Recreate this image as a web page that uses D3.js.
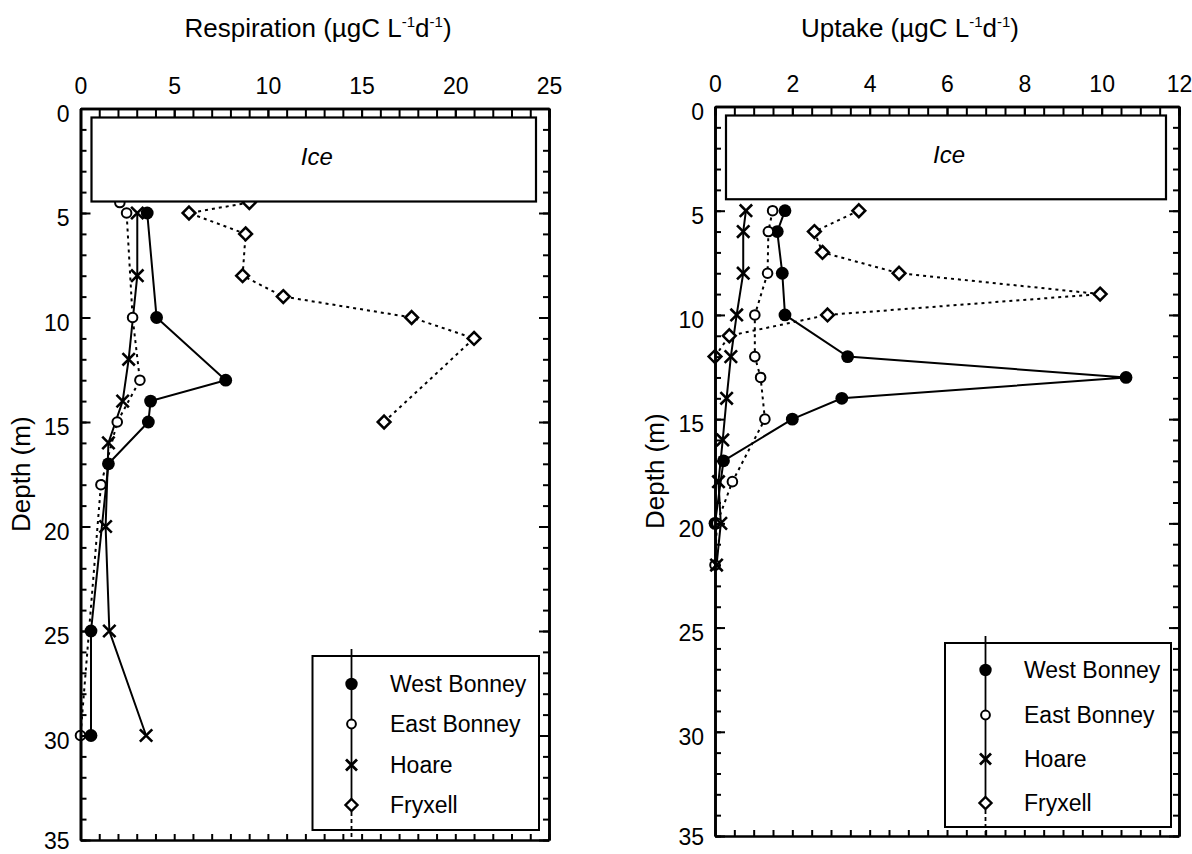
<!DOCTYPE html>
<html>
<head>
<meta charset="utf-8">
<script src="https://cdn.jsdelivr.net/npm/d3@7"></script>
<style>
  body { margin: 0; background: #fff; }
  svg { font-family: "Liberation Sans", Arial, Helvetica, sans-serif; }
</style>
</head>
<body>
<div id="chart"></div>
<script>
// ---- data (depth in m, values in ugC L-1 d-1) ----
const seriesNames = ['West Bonney', 'East Bonney', 'Hoare', 'Fryxell'];
const depthTicks = [0, 5, 10, 15, 20, 25, 30, 35];
const respTicks = [0, 5, 10, 15, 20, 25];
const uptakeTicks = [0, 2, 4, 6, 8, 10, 12];

// Respiration
const respWestBonneyDepth = [5, 10, 13, 14, 15, 17, 25, 30];
const respWestBonneyValue = [3.56, 4.06, 7.75, 3.74, 3.62, 1.49, 0.56, 0.56];
const respEastBonneyDepth = [4.5, 5, 10, 13, 15, 18, 30];
const respEastBonneyValue = [2.1, 2.46, 2.78, 3.17, 1.96, 1.09, 0.0];
const respHoareDepth = [5, 8, 12, 14, 16, 20, 25, 30];
const respHoareValue = [3.03, 3.03, 2.57, 2.25, 1.49, 1.34, 1.54, 3.5];
const respFryxellDepth = [4.5, 5, 6, 8, 9, 10, 11, 15];
const respFryxellValue = [9.01, 5.79, 8.81, 8.65, 10.82, 17.67, 21.0, 16.2];

// Uptake
const upWestBonneyDepth = [5, 6, 8, 10, 12, 13, 14, 15, 17, 20];
const upWestBonneyValue = [1.81, 1.61, 1.74, 1.81, 3.43, 10.63, 3.28, 2.0, 0.22, 0.0];
const upEastBonneyDepth = [5, 6, 8, 10, 12, 13, 15, 18, 20, 22];
const upEastBonneyValue = [1.49, 1.38, 1.36, 1.03, 1.03, 1.18, 1.29, 0.45, 0.05, 0.0];
const upHoareDepth = [5, 6, 8, 10, 12, 14, 16, 18, 20, 22];
const upHoareValue = [0.8, 0.73, 0.73, 0.56, 0.41, 0.3, 0.2, 0.09, 0.15, 0.04];
const upFryxellDepth = [5, 6, 7, 8, 9, 10, 11, 12];
const upFryxellValue = [3.72, 2.57, 2.78, 4.76, 9.96, 2.91, 0.37, 0.0];

const svg = d3.select('#chart').append('svg')
    .attr('width', 1192)
    .attr('height', 854);

function zip(depths, values) {
    return depths.map((d, i) => ({ depth: d, value: values[i] }));
}

// marker drawing
function drawMarker(g, kind, x, y) {
    if (kind === 0) {
        g.append('circle').attr('cx', x).attr('cy', y).attr('r', 6.4).attr('fill', '#000');
    } else if (kind === 1) {
        g.append('circle').attr('cx', x).attr('cy', y).attr('r', 4.8)
            .attr('fill', '#fff').attr('stroke', '#000').attr('stroke-width', 2);
    } else if (kind === 2) {
        const s = 6.2;
        g.append('path')
            .attr('d', `M${x - s},${y - s}L${x + s},${y + s}M${x - s},${y + s}L${x + s},${y - s}`)
            .attr('stroke', '#000').attr('stroke-width', 2.6).attr('fill', 'none');
    } else {
        const s = 6.4;
        g.append('path')
            .attr('d', `M${x},${y - s}L${x + s},${y}L${x},${y + s}L${x - s},${y}Z`)
            .attr('stroke', '#000').attr('stroke-width', 2.5).attr('fill', '#fff');
    }
}

function drawPanel(cfg) {
    const x = d3.scaleLinear().domain([0, cfg.xMax]).range([cfg.left, cfg.right]);
    const y = d3.scaleLinear().domain([0, 35]).range([cfg.top, cfg.bottom]);
    const g = svg.append('g');

    // data lines
    const line = d3.line().x(d => x(d.value)).y(d => y(d.depth));
    cfg.series.forEach((s, i) => {
        g.append('path')
            .datum(s)
            .attr('d', line)
            .attr('fill', 'none')
            .attr('stroke', '#000')
            .attr('stroke-width', 2)
            .attr('stroke-dasharray', (i % 2 === 1) ? '3,4' : null);
    });
    cfg.series.forEach((s, i) => {
        s.forEach(d => drawMarker(g, i, x(d.value), y(d.depth)));
    });

    // ice box drawn on top
    g.append('rect')
        .attr('x', cfg.left + 11).attr('y', y(0) + 9)
        .attr('width', cfg.right - cfg.left - 24).attr('height', y(4.45) - y(0) - 9)
        .attr('fill', '#fff').attr('stroke', '#000').attr('stroke-width', 2.2);
    g.append('text')
        .attr('x', (cfg.left + cfg.right) / 2 + 2).attr('y', y(2.3))
        .attr('text-anchor', 'middle').attr('dominant-baseline', 'central')
        .attr('font-size', 24).attr('font-style', 'italic')
        .text('Ice');

    // axes
    const minorX = d3.range(0, cfg.xMax + 1e-9, cfg.xMinor);
    const minorY = d3.range(0, 35.0001, 1);
    const style = sel => {
        sel.select('.domain').attr('stroke-width', 2.6);
        sel.selectAll('.tick line').attr('stroke-width', 2);
        sel.selectAll('.tick text').attr('font-size', 23).attr('fill', '#000')
            .attr('font-family', '"Liberation Sans", Arial, sans-serif');
    };

    g.append('g').attr('transform', `translate(0,${cfg.top})`)
        .call(d3.axisTop(x).tickValues(minorX).tickSizeInner(-9).tickSizeOuter(0).tickFormat(''))
        .call(style);
    g.append('g').attr('transform', `translate(0,${cfg.top})`)
        .call(d3.axisTop(x).tickValues(cfg.xTicks).tickSizeInner(-9).tickSizeOuter(0).tickPadding(15).tickFormat(d3.format('d')))
        .call(style);
    g.append('g').attr('transform', `translate(0,${cfg.bottom})`)
        .call(d3.axisBottom(x).tickValues(minorX).tickSizeInner(-6).tickSizeOuter(0).tickFormat(''))
        .call(style);
    g.append('g').attr('transform', `translate(${cfg.left},0)`)
        .call(d3.axisLeft(y).tickValues(minorY).tickSizeInner(-6).tickSizeOuter(0).tickFormat(''))
        .call(style);
    g.append('g').attr('transform', `translate(${cfg.left},0)`)
        .call(d3.axisLeft(y).tickValues(depthTicks).tickSizeInner(-10).tickSizeOuter(0).tickPadding(11).tickFormat(d3.format('d')))
        .call(style)
        .selectAll('.tick text').attr('dy', d => d === 35 ? '0.36em' : '0.55em');
    g.append('g').attr('transform', `translate(${cfg.right},0)`)
        .call(d3.axisRight(y).tickValues(minorY).tickSizeInner(-6).tickSizeOuter(0).tickFormat(''))
        .call(style);
    g.append('g').attr('transform', `translate(${cfg.right},0)`)
        .call(d3.axisRight(y).tickValues(depthTicks).tickSizeInner(-10).tickSizeOuter(0).tickFormat(''))
        .call(style);

    // titles
    const title = g.append('text')
        .attr('x', cfg.titleX).attr('y', 37)
        .attr('text-anchor', 'middle').attr('font-size', 26);
    title.append('tspan').text(cfg.title + ' (\u00b5gC L');
    title.append('tspan').attr('font-size', 15).attr('dy', -10).text('-1');
    title.append('tspan').attr('dy', 10).text('d');
    title.append('tspan').attr('font-size', 15).attr('dy', -10).text('-1');
    title.append('tspan').attr('dy', 10).text(')');

    g.append('text')
        .attr('transform', `translate(${cfg.left - 51},${y(17.5)}) rotate(-90)`)
        .attr('text-anchor', 'middle').attr('font-size', 26)
        .text('Depth (m)');

    // legend
    const L = cfg.legend;
    g.append('rect').attr('x', L.x0).attr('y', L.y0)
        .attr('width', L.x1 - L.x0).attr('height', L.y1 - L.y0)
        .attr('fill', '#fff').attr('stroke', '#000').attr('stroke-width', 2);
    g.append('line').attr('x1', L.lx).attr('x2', L.lx)
        .attr('y1', L.y0 - 7).attr('y2', L.rows[3])
        .attr('stroke', '#000').attr('stroke-width', 1.8);
    g.append('line').attr('x1', L.lx).attr('x2', L.lx)
        .attr('y1', L.rows[3]).attr('y2', cfg.bottom)
        .attr('stroke', '#000').attr('stroke-width', 1.8).attr('stroke-dasharray', '4,3');
    seriesNames.forEach((name, i) => {
        const ly = L.rows[i];
        if (i === 0) {
            g.append('circle').attr('cx', L.lx).attr('cy', ly).attr('r', 6.2).attr('fill', '#000');
        } else if (i === 1) {
            g.append('circle').attr('cx', L.lx).attr('cy', ly).attr('r', 4.4)
                .attr('fill', '#fff').attr('stroke', '#000').attr('stroke-width', 2);
        } else if (i === 2) {
            const s = 5.5;
            g.append('path')
                .attr('d', `M${L.lx - s},${ly - s}L${L.lx + s},${ly + s}M${L.lx - s},${ly + s}L${L.lx + s},${ly - s}`)
                .attr('stroke', '#000').attr('stroke-width', 2.8);
        } else {
            const s = 6;
            g.append('path')
                .attr('d', `M${L.lx},${ly - s}L${L.lx + s},${ly}L${L.lx},${ly + s}L${L.lx - s},${ly}Z`)
                .attr('stroke', '#000').attr('stroke-width', 2.4).attr('fill', '#fff');
        }
        g.append('text').attr('x', L.tx).attr('y', ly)
            .attr('dominant-baseline', 'central').attr('font-size', 23)
            .text(name);
    });
}

drawPanel({
    title: 'Respiration', titleX: 318, xMax: 25, xMinor: 1, xTicks: respTicks,
    left: 80.5, right: 549, top: 108.5, bottom: 840,
    series: [
        zip(respWestBonneyDepth, respWestBonneyValue),
        zip(respEastBonneyDepth, respEastBonneyValue),
        zip(respHoareDepth, respHoareValue),
        zip(respFryxellDepth, respFryxellValue)
    ],
    legend: { x0: 312.5, x1: 539, y0: 656, y1: 830, lx: 351.5, tx: 390, rows: [684, 724, 765, 805] }
});

drawPanel({
    title: 'Uptake', titleX: 910, xMax: 12, xMinor: 0.5, xTicks: uptakeTicks,
    left: 715, right: 1179, top: 106.5, bottom: 836,
    series: [
        zip(upWestBonneyDepth, upWestBonneyValue),
        zip(upEastBonneyDepth, upEastBonneyValue),
        zip(upHoareDepth, upHoareValue),
        zip(upFryxellDepth, upFryxellValue)
    ],
    legend: { x0: 945, x1: 1171, y0: 643, y1: 827, lx: 985.5, tx: 1024, rows: [670, 715, 759, 803] }
});
</script>
</body>
</html>
